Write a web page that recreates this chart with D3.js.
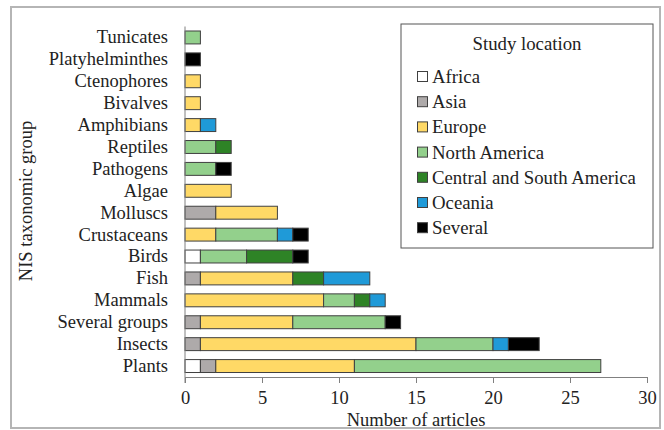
<!DOCTYPE html>
<html><head><meta charset="utf-8">
<script src="https://cdn.jsdelivr.net/npm/d3@7"></script>
<style>body{margin:0;background:#fff}svg{display:block}</style>
</head><body><svg id="c" width="664" height="430"></svg>
<script>
const categories = ["Tunicates","Platyhelminthes","Ctenophores","Bivalves","Amphibians","Reptiles","Pathogens","Algae","Molluscs","Crustaceans","Birds","Fish","Mammals","Several groups","Insects","Plants"];
const seriesNames = ["Africa","Asia","Europe","North America","Central and South America","Oceania","Several"];
const seriesColors = ["#ffffff","#aeaaaa","#ffd966","#93d08c","#2e8326","#1f9ad8","#000000"];
// values per category, in series order
const africa  = [0,0,0,0,0,0,0,0,0,0,1,0,0,0,0,1];
const asia    = [0,0,0,0,0,0,0,0,2,0,0,1,0,1,1,1];
const europe  = [0,0,1,1,1,0,0,3,4,2,0,6,9,6,14,9];
const northAm = [1,0,0,0,0,2,2,0,0,4,3,0,2,6,5,16];
const centralSouthAm = [0,0,0,0,0,1,0,0,0,0,3,2,1,0,0,0];
const oceania = [0,0,0,0,1,0,0,0,0,1,0,3,1,0,1,0];
const several = [0,1,0,0,0,0,1,0,0,1,1,0,0,1,2,0];
const xTicks = [0,5,10,15,20,25,30];

const FONT = "Liberation Serif, Times New Roman, DejaVu Serif, serif";
const seriesData = [africa,asia,europe,northAm,centralSouthAm,oceania,several];
const rows = categories.map((c,i)=>{const r={cat:c}; seriesNames.forEach((s,j)=>r[s]=seriesData[j][i]); return r;});
const stack = d3.stack().keys(seriesNames)(rows);

const svg = d3.select("#c");
svg.append("rect").attr("x",11).attr("y",7).attr("width",649).attr("height",421).attr("fill","#fff").attr("stroke","#b5b5b5").attr("stroke-width",2);

const x = d3.scaleLinear().domain([0,30]).range([185,647]);
const y = d3.scaleBand().domain(categories).range([26.5,377]).paddingInner(0.41).paddingOuter(0.205);

// bars
svg.append("g").selectAll("g").data(stack).join("g")
  .attr("fill",(d,i)=>seriesColors[i])
  .selectAll("rect").data(d=>d.filter(p=>p[1]-p[0]>0)).join("rect")
  .attr("x",d=>x(d[0])).attr("width",d=>x(d[1])-x(d[0]))
  .attr("y",d=>y(d.data.cat)).attr("height",y.bandwidth())
  .attr("stroke","#404040").attr("stroke-width",1);

// x axis
const xa = svg.append("g").attr("transform","translate(0,377)")
  .call(d3.axisBottom(x).tickValues(xTicks).tickSize(6).tickPadding(8).tickSizeOuter(0));
xa.attr("font-family",FONT).attr("font-size",18.5);
xa.select(".domain").attr("stroke","#808080");
xa.selectAll(".tick line").attr("stroke","#808080");
xa.selectAll("text").attr("fill","#222");

// y axis
const ya = svg.append("g").attr("transform","translate(185,0)")
  .call(d3.axisLeft(y).tickSize(0).tickPadding(17));
ya.attr("font-family",FONT).attr("font-size",18.5);
ya.select(".domain").attr("stroke","#808080").attr("d","M0,26.5V383");
ya.selectAll("text").attr("fill","#222");

// axis titles
svg.append("text").attr("x",416).attr("y",426).attr("text-anchor","middle").attr("font-family",FONT).attr("font-size",18.5).attr("fill","#222").text("Number of articles");
svg.append("text").attr("transform","translate(32,201) rotate(-90)").attr("text-anchor","middle").attr("font-family",FONT).attr("font-size",18.5).attr("fill","#222").text("NIS taxonomic group");

// legend
const lg = svg.append("g").attr("font-family",FONT).attr("font-size",18.8);
lg.append("rect").attr("x",401).attr("y",24).attr("width",252).attr("height",224).attr("fill","#fff").attr("stroke","#555").attr("stroke-width",1);
lg.append("text").attr("x",527).attr("y",50).attr("text-anchor","middle").attr("fill","#222").text("Study location");
seriesNames.forEach((s,i)=>{
  const yy = 83 + i*25.2;
  lg.append("rect").attr("x",417.5).attr("y",yy-11.5).attr("width",10).attr("height",10).attr("fill",seriesColors[i]).attr("stroke","#404040").attr("stroke-width",1);
  lg.append("text").attr("x",432).attr("y",yy).attr("fill","#222").text(s);
});
</script></body></html>
